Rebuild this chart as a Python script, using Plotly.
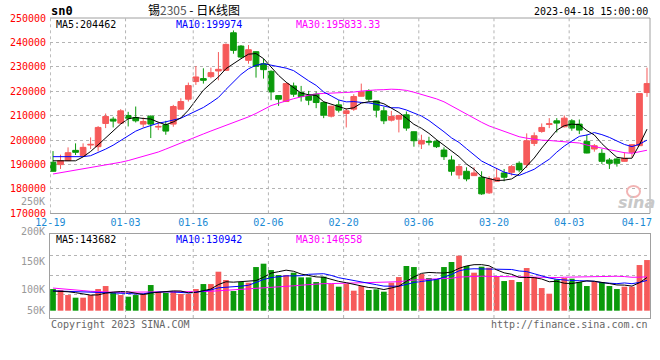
import plotly.graph_objects as go

# ---------------- data ----------------
TICK_POS = [0, 10, 19, 29, 39, 49, 59, 69, 78]
TICK_TEXT = ["12-19", "01-03", "01-16", "02-06", "02-20", "03-06", "03-20", "04-03", "04-17"]
PRICE_TICKS = [170000, 180000, 190000, 200000, 210000, 220000, 230000, 240000, 250000]

OPEN = [190890, 189940, 191570, 195780, 193610, 197960, 197280, 206800, 208570, 206940,
        210070, 209250, 206530, 209800, 205310, 206260, 206530, 212650, 216740, 223950,
        225170, 225990, 228300, 228570, 243950, 238500, 232650, 236190, 231290, 228160,
        218230, 215780, 222180, 219460, 218100, 218780, 215370, 209800, 214420, 210890,
        212650, 217960, 220140, 216050, 211970, 208160, 208570, 210340, 203400, 198370,
        199460, 199460, 195920, 191840, 185710, 187210, 185440, 184760, 178370, 183130,
        186530, 186800, 190480, 189930, 198640, 203540, 206400, 207890, 205440, 207890,
        206530, 199460, 196330, 194560, 191840, 192250, 191290, 194970, 197690, 219460]
HIGH = [195480, 194020, 197010, 198650, 198650, 201090, 205720, 210880, 209520, 212650,
        211570, 213740, 209250, 210070, 207480, 207890, 214420, 217140, 223540, 230340,
        229390, 229660, 236050, 239590, 244900, 238910, 238910, 236330, 233330, 228570,
        218230, 223270, 223540, 222180, 220140, 219860, 215780, 214010, 216330, 213060,
        218780, 223130, 220820, 216050, 213610, 211970, 210340, 211700, 203540, 202180,
        201360, 200140, 197010, 193610, 189930, 188840, 188840, 187210, 185170, 188570,
        188160, 189800, 191290, 202720, 203130, 206800, 208980, 208980, 210070, 208570,
        208440, 202180, 198370, 196330, 192650, 192520, 194970, 198370, 219180, 229660]
LOW = [187100, 188170, 191400, 193880, 193330, 196330, 195370, 204900, 205170, 206530,
       205580, 207210, 205170, 200820, 204080, 202180, 205440, 212520, 215780, 222590,
       223130, 225310, 224490, 228300, 235370, 233470, 231290, 225580, 225170, 216330,
       214010, 215700, 217690, 215780, 214290, 213060, 208980, 209250, 211290, 205170,
       211970, 217820, 215780, 209250, 206530, 207620, 203130, 203810, 197280, 196330,
       197820, 196740, 191840, 185440, 184080, 183130, 185310, 177550, 177960, 182990,
       183130, 185440, 186800, 188570, 197550, 202990, 204900, 203130, 205170, 203810,
       202450, 194560, 195240, 190200, 188160, 189120, 191160, 192930, 197550, 217690]
CLOSE = [187210, 191570, 194830, 194970, 197010, 198230, 205170, 209660, 207760, 211970,
         208980, 207890, 207620, 206530, 205580, 203670, 213740, 215780, 222310, 225850,
         224490, 227620, 228980, 239180, 236740, 234010, 237010, 230200, 228840, 219730,
         216740, 223130, 218780, 217820, 216330, 215370, 210200, 213880, 212250, 211970,
         217820, 219730, 216740, 212250, 207890, 209660, 210070, 204900, 199730, 199860,
         199180, 197280, 193200, 187210, 189120, 184080, 186530, 177960, 184080, 184490,
         184760, 189120, 187760, 199730, 201770, 205170, 206670, 206940, 208980, 204900,
         204080, 194690, 197690, 191290, 190480, 190480, 192520, 198100, 219050, 223130]

MA5 = [191500, 191500, 191500, 191500, 193120, 195320, 198040, 201010, 203570, 206560,
       208710, 209250, 208840, 208600, 207320, 206260, 207430, 209060, 212220, 216270,
       220440, 223210, 225850, 229230, 231400, 233310, 235180, 235430, 233360, 229960,
       226500, 223730, 221440, 219240, 218560, 218290, 215700, 214720, 213610, 212730,
       213220, 215130, 215700, 215700, 214880, 213250, 211320, 208950, 206450, 204840,
       202750, 200190, 197850, 195350, 193200, 190180, 188030, 184980, 184350, 183430,
       183560, 184080, 186040, 189170, 192630, 196710, 200220, 204050, 205900, 206530,
       206310, 203920, 202070, 198530, 195650, 192930, 192490, 192570, 198120, 204460]
MA10 = [193200, 193200, 193200, 193200, 193200, 193600, 194900, 196300, 197900, 199840,
        202010, 203650, 204930, 206080, 206940, 207480, 208340, 208950, 210410, 211800,
        213350, 215320, 217460, 220720, 223840, 226870, 229200, 230640, 231290, 230680,
        229900, 229460, 228440, 226300, 224260, 222390, 219710, 218080, 216420, 215650,
        215760, 215420, 215210, 214650, 213810, 213240, 213220, 212330, 211070, 209860,
        208000, 205760, 203400, 200900, 199020, 196460, 194110, 191420, 189850, 188310,
        186870, 186050, 185510, 186760, 188030, 190140, 192150, 195050, 197540, 199580,
        201510, 202070, 203060, 202220, 201090, 199620, 198200, 197320, 198330, 199970]
MA30 = [186100, 186600, 187100, 187600, 188100, 188600, 189100, 189600, 190200, 190900,
        191600, 192400, 193300, 194200, 195100, 196300, 197600, 198900, 200100, 201300,
        202500, 203700, 204800, 205900, 207000, 208200, 209500, 210900, 212500, 214110,
        215090, 216140, 216940, 217700, 218350, 218920, 219080, 219230, 219370, 219370,
        219670, 220060, 220370, 220560, 220640, 220840, 220710, 220350, 219600, 218730,
        217890, 216880, 215680, 213950, 212360, 210700, 209020, 207270, 205780, 204610,
        203540, 202410, 201370, 200770, 200290, 199950, 199830, 199600, 199490, 199250,
        198790, 197960, 197320, 196630, 196050, 195410, 194820, 194590, 195240, 195830]

VOL = [93800, 89500, 67800, 56300, 56300, 67800, 93800, 106800, 77900, 67800,
       60600, 67800, 75000, 111100, 82300, 77900, 82300, 72200, 72200, 93800,
       115400, 115400, 168800, 132800, 85100, 124100, 121200, 189000, 203500, 176000,
       154400, 154400, 164500, 144300, 144300, 124100, 147200, 115400, 103900, 115400,
       86600, 106800, 89500, 92400, 82300, 121200, 145700, 193400, 189000, 158700,
       141400, 137100, 189000, 210700, 238100, 193400, 164500, 190500, 186100, 150100,
       128400, 132800, 124100, 184700, 145700, 98100, 73600, 135600, 141400, 138500,
       124100, 106800, 125500, 124100, 106800, 93800, 103900, 103900, 197700, 219300]
VMA5 = [85000, 84000, 82000, 78000, 72700, 67500, 68400, 76200, 80500, 82800,
        81400, 76200, 69800, 76500, 79400, 82800, 85700, 85200, 77400, 79700,
        87200, 93800, 113100, 125200, 123500, 125200, 126400, 130400, 144600, 162800,
        168800, 175500, 170600, 158700, 152400, 146300, 144900, 135100, 127000, 121200,
        113700, 105600, 100400, 98100, 91500, 98400, 106200, 127000, 146300, 161600,
        165600, 163900, 163000, 167400, 183300, 193700, 199100, 199400, 194500, 176900,
        163900, 157600, 144300, 144000, 143100, 137100, 125200, 127500, 118900, 117400,
        122600, 129300, 127300, 123800, 117500, 111400, 110800, 106500, 121200, 143680]
VMA10 = [86000, 85000, 84000, 83000, 82000, 81000, 80000, 79000, 78000, 77800,
         74500, 72300, 73000, 78500, 81100, 82100, 81000, 77500, 76900, 79500,
         85000, 89800, 99100, 101300, 101600, 106200, 110100, 121800, 134900, 143100,
         147000, 150900, 150500, 151700, 157600, 157600, 160200, 152800, 142900, 136800,
         130000, 125300, 117800, 112600, 106400, 106100, 105900, 113700, 122200, 126600,
         132000, 135100, 145000, 156900, 172400, 179700, 181500, 181200, 181000, 180100,
         178800, 178400, 171900, 169300, 160000, 150500, 141400, 135900, 131500, 130300,
         129900, 127300, 127400, 121300, 117500, 117000, 120100, 116900, 122500, 130940]
VMA30 = [98000, 96000, 94000, 90000, 87000, 84000, 82000, 81000, 80000, 80000,
         80000, 80000, 80000, 80000, 80000, 80000, 80000, 80000, 81000, 82000,
         83000, 84000, 86000, 88000, 89000, 91000, 93000, 95000, 98000, 100100,
         102200, 104300, 107600, 110500, 113400, 115300, 117100, 117400, 118200, 119800,
         120700, 122000, 122500, 121800, 121800, 123300, 125400, 129400, 133300, 135500,
         136400, 137100, 137800, 140400, 145500, 147800, 149200, 149300, 148700, 147800,
         146900, 146200, 144900, 146200, 146300, 145400, 143000, 143600, 144900, 145600,
         146900, 146900, 148100, 149200, 150000, 149100, 147700, 144700, 145000, 146560]

VOL_LABELS = ["250K", "200K", "150K", "100K", "50K"]
MAIN_LEGEND = ["MA5:204462", "MA10:199974", "MA30:195833.33"]
VOL_LEGEND = ["MA5:143682", "MA10:130942", "MA30:146558"]

# ---------------- figure ----------------
W, H = 660, 360
MONO = "DejaVu Sans Mono"
RED = "#f65a5a"
GREEN = "#0a9a0a"
GRID = "#b4b4b4"
BORDER = "#a0a0a0"


def py(y):
    return 1 - y / H


X = list(range(len(CLOSE)))
bar_colors = [RED if c >= o else GREEN for o, c in zip(OPEN, CLOSE)]

fig = go.Figure()
fig.add_trace(go.Candlestick(
    x=X, open=OPEN, high=HIGH, low=LOW, close=CLOSE,
    increasing=dict(line=dict(color=RED, width=1), fillcolor=RED),
    decreasing=dict(line=dict(color=GREEN, width=1), fillcolor=GREEN),
    whiskerwidth=0, xaxis="x", yaxis="y", hoverinfo="skip"))
for ys, col in ((MA30, "#ff00ff"), (MA10, "#0000ff"), (MA5, "#000000")):
    fig.add_trace(go.Scatter(x=X, y=ys, mode="lines", line=dict(color=col, width=1),
                             xaxis="x", yaxis="y", hoverinfo="skip"))

fig.add_trace(go.Bar(x=X, y=VOL, marker=dict(color=bar_colors, line=dict(width=0)),
                     width=0.76, xaxis="x2", yaxis="y2", hoverinfo="skip"))
for ys, col in ((VMA30, "#ff00ff"), (VMA10, "#0000ff"), (VMA5, "#000000")):
    fig.add_trace(go.Scatter(x=X, y=ys, mode="lines", line=dict(color=col, width=1),
                             xaxis="x2", yaxis="y2", hoverinfo="skip"))

xdom = [50 / W, 650 / W]
xr = [-0.4, len(X) - 0.6]
tickx = [p - 0.35 for p in TICK_POS]

fig.update_layout(
    width=W, height=H, margin=dict(l=0, r=0, t=0, b=0),
    paper_bgcolor="white", plot_bgcolor="white",
    showlegend=False, hovermode=False,
    boxgap=0.05, boxgroupgap=0.2,
    xaxis=dict(domain=xdom, range=xr, anchor="y", tickvals=tickx, ticktext=TICK_TEXT,
               showgrid=False, zeroline=False, showline=True, linecolor=BORDER,
               ticks="", tickfont=dict(family=MONO, size=10, color="#1a8ad4"),
               rangeslider=dict(visible=False), fixedrange=True, automargin=False),
    yaxis=dict(domain=[py(213.3), py(18)], range=[170000, 250000], anchor="x",
               tickvals=PRICE_TICKS, ticktext=[str(v) for v in PRICE_TICKS],
               showgrid=True, gridcolor=GRID, griddash="dot", gridwidth=1,
               zeroline=False, showline=False, ticks="", ticklabelstandoff=3,
               tickfont=dict(family=MONO, size=10, color="#ff0000"), fixedrange=True,
               automargin=False),
    xaxis2=dict(domain=xdom, range=xr, anchor="y2", showticklabels=False,
                showgrid=False, zeroline=False, showline=True, mirror=True,
                linecolor=BORDER, ticks="", fixedrange=True, automargin=False),
    yaxis2=dict(domain=[py(318), py(234)], range=[-31600, 332000], anchor="x2",
                tickvals=[68000, 154500, 241000], showticklabels=False,
                showgrid=True, gridcolor=GRID, griddash="dot", zeroline=False,
                showline=True, mirror=True, linecolor=BORDER, ticks="", fixedrange=True,
                automargin=False),
)

shapes = []
# main panel solid borders (top, right)
shapes.append(dict(type="line", xref="x domain", yref="y domain", x0=0, x1=1, y0=1, y1=1,
                   line=dict(color=BORDER, width=1)))
shapes.append(dict(type="line", xref="x domain", yref="y domain", x0=1, x1=1, y0=0, y1=1,
                   line=dict(color=BORDER, width=1)))
# vertical dotted date gridlines
for p in tickx[:-1]:
    shapes.append(dict(type="line", xref="x", yref="y domain", x0=p, x1=p, y0=0, y1=1,
                       line=dict(color=GRID, width=1, dash="dot")))
    if p > 0:
        shapes.append(dict(type="line", xref="x2", yref="y2 domain", x0=p, x1=p, y0=0, y1=1,
                           line=dict(color=GRID, width=1, dash="dot")))
# sina watermark eye
shapes.append(dict(type="circle", xref="paper", yref="paper",
                   x0=627 / W, x1=640 / W, y0=py(197), y1=py(186),
                   line=dict(color="#f2b4b4", width=2)))
fig.update_layout(shapes=shapes)

ann = []


def txt(x, y, s, color="#000", size=10, anchor="left", family=MONO, **kw):
    ann.append(dict(x=x / W, y=py(y), xref="paper", yref="paper", text=s, showarrow=False,
                    xanchor=anchor, yanchor="middle",
                    font=dict(family=family, size=size, color=color), **kw))


txt(49, 11, "<b>sn0</b>", size=12)
txt(194, 9, '锡<span style="color:#555">2305</span> - 日K线图', size=12,
    anchor="center", family="Noto Sans CJK SC")
txt(650, 12, "2023-04-18 15:00:00", anchor="right")
for s, xx, col in zip(MAIN_LEGEND, (54, 174, 294), ("#000000", "#0000ff", "#ff00ff")):
    txt(xx, 24.5, s, color=col)
for s, xx, col in zip(VOL_LEGEND, (54, 174, 294), ("#000000", "#0000ff", "#ff00ff")):
    txt(xx, 239, s, color=col)
for lab, yy in zip(VOL_LABELS, [201, 231, 261, 289, 310]):
    txt(47, yy, lab, color="#999999", anchor="right")
txt(49, 324, "Copyright 2023 SINA.COM", color="#666666")
txt(650, 324, "http://finance.sina.com.cn", color="#666666", anchor="right")
txt(636, 202, "<b><i>sina</i></b>", color="#c8c8c8", size=16, anchor="center",
    family="DejaVu Sans")
fig.update_layout(annotations=ann)

fig.write_html("out.html", config={"displayModeBar": False},
               post_script="document.body.style.margin='0';document.body.style.overflow='hidden';")
